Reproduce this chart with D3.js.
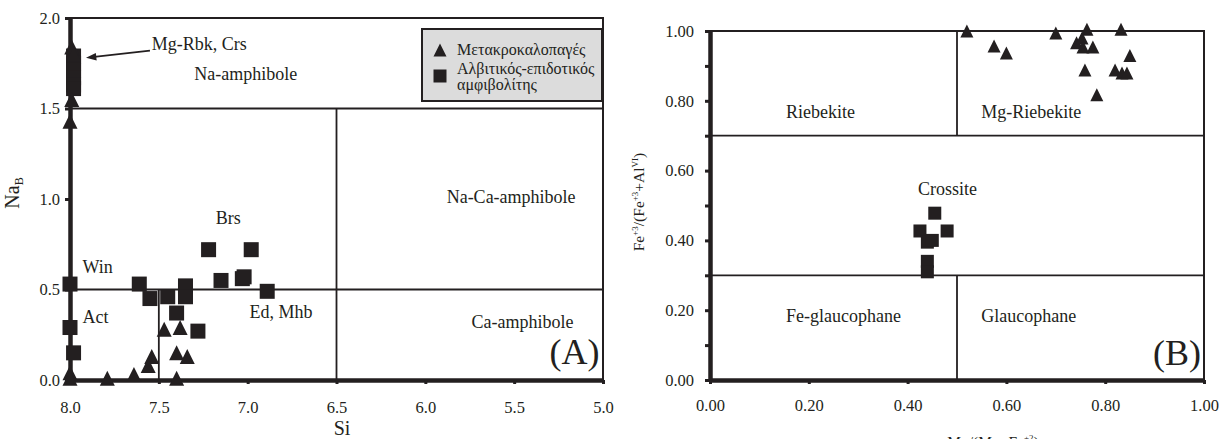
<!DOCTYPE html>
<html>
<head>
<meta charset="utf-8">
<script src="https://cdn.jsdelivr.net/npm/d3@7"></script>
<style>
  body { margin: 0; background: #fff; }
  text { fill: #231f20; }
</style>
</head>
<body>
<div id="chart"></div>
<script>
// Panel A data: [Si, NaB]
const triA = [
  [7.99, 1.84], [7.98, 1.80], [7.99, 1.55], [8.0, 1.43],
  [8.0, 0.04], [8.0, 0.01], [7.79, 0.01], [7.64, 0.03], [7.56, 0.08], [7.54, 0.13],
  [7.47, 0.28], [7.38, 0.29], [7.40, 0.15], [7.34, 0.13], [7.40, 0.01]
];
const sqA = [
  [7.98, 1.79], [7.98, 1.75], [7.98, 1.71], [7.98, 1.67], [7.98, 1.63], [7.98, 1.61],
  [8.0, 0.53], [8.0, 0.29], [7.98, 0.15],
  [7.61, 0.53], [7.55, 0.45], [7.45, 0.46], [7.35, 0.52], [7.35, 0.46], [7.40, 0.37],
  [7.28, 0.27], [7.22, 0.72], [6.98, 0.72], [7.15, 0.55], [7.03, 0.56], [7.02, 0.57], [6.89, 0.49]
];
// Panel B data: [Mg/(Mg+Fe2), Fe3/(Fe3+AlVI)]
const triB = [
  [0.52, 1.00], [0.575, 0.957], [0.60, 0.937], [0.70, 0.994], [0.763, 1.005],
  [0.742, 0.966], [0.753, 0.98], [0.755, 0.954], [0.775, 0.954], [0.759, 0.888],
  [0.783, 0.817], [0.832, 1.005], [0.82, 0.888], [0.834, 0.88], [0.85, 0.93], [0.844, 0.88]
];
const sqB = [
  [0.455, 0.478], [0.425, 0.427], [0.48, 0.427], [0.44, 0.395], [0.45, 0.40],
  [0.44, 0.34], [0.44, 0.31]
];

const ticksAx = [8.0, 7.5, 7.0, 6.5, 6.0, 5.5, 5.0];
const ticksAy = [0, 0.5, 1.0, 1.5, 2.0];
const ticksBx = [0, 0.2, 0.4, 0.6, 0.8, 1.0];
const ticksBy = [0, 0.1, 0.2, 0.3, 0.4, 0.5, 0.6, 0.7, 0.8, 0.9, 1.0];

const legendLabels = ["Μετακροκαλοπαγές", "Αλβιτικός-επιδοτικός", "αμφιβολίτης"];

// field boundaries [x1, y1, x2, y2]
const fieldsA = [[8, 1.5, 5, 1.5], [8, 0.5, 5, 0.5], [7.5, 0, 7.5, 0.5], [6.5, 0, 6.5, 1.5]];
const fieldsB = [[0, 0.7, 1, 0.7], [0, 0.3, 1, 0.3], [0.5, 0.7, 0.5, 1], [0.5, 0, 0.5, 0.3]];

const labelsA = [
  { t: "Mg-Rbk, Crs", x: 7.54, y: 1.823 },
  { t: "Na-amphibole", x: 7.30, y: 1.66 },
  { t: "Na-Ca-amphibole", x: 5.88, y: 0.978 },
  { t: "Ca-amphibole", x: 5.74, y: 0.287 },
  { t: "Brs", x: 7.18, y: 0.862 },
  { t: "Win", x: 7.93, y: 0.59 },
  { t: "Act", x: 7.93, y: 0.315 },
  { t: "Ed, Mhb", x: 6.99, y: 0.343 }
];
const labelsB = [
  { t: "Riebekite", x: 0.154, y: 0.751 },
  { t: "Mg-Riebekite", x: 0.549, y: 0.751 },
  { t: "Crossite", x: 0.421, y: 0.53 },
  { t: "Fe-glaucophane", x: 0.154, y: 0.166 },
  { t: "Glaucophane", x: 0.549, y: 0.166 }
];

const width = 1228, height = 439;
const ink = "#231f20";
const serif = "Liberation Serif";

const svg = d3.select("#chart").append("svg")
  .attr("width", width).attr("height", height)
  .attr("font-family", serif);

const xA = d3.scaleLinear().domain([8, 5]).range([70, 603]);
const yA = d3.scaleLinear().domain([0, 2]).range([380, 18]);
const xB = d3.scaleLinear().domain([0, 1]).range([710, 1204]);
const yB = d3.scaleLinear().domain([0, 1]).range([380, 31]);

const tri = (cx, cy, s) => `M${cx},${cy - s / 2}L${cx + s / 2},${cy + s / 2}L${cx - s / 2},${cy + s / 2}Z`;

function panel(x, y, fields, tris, sqs, labels, ms, opts) {
  const g = svg.append("g");

  // frame top + right
  const [x0, x1] = x.range(), [y0, y1] = y.range();
  g.append("path")
    .attr("d", `M${x0},${y1}H${x1}V${y0}`)
    .attr("fill", "none").attr("stroke", ink).attr("stroke-width", 2);

  // field boundaries
  g.selectAll(".field").data(fields).join("line")
    .attr("x1", d => x(d[0])).attr("y1", d => y(d[1]))
    .attr("x2", d => x(d[2])).attr("y2", d => y(d[3]))
    .attr("stroke", ink).attr("stroke-width", 1.8);

  // axes
  const ax = g.append("g").attr("transform", `translate(0,${y0})`)
    .call(d3.axisBottom(x).tickValues(opts.xt).tickSize(4).tickSizeOuter(0)
      .tickPadding(opts.xpad).tickFormat(opts.xf));
  const ay = g.append("g").attr("transform", `translate(${x0},0)`)
    .call(d3.axisLeft(y).tickValues(opts.yt).tickSize(5).tickSizeOuter(0)
      .tickPadding(opts.ypad).tickFormat(opts.yf));
  [ax, ay].forEach(a => {
    a.attr("font-size", 16.5);
    a.select(".domain").attr("stroke", ink).attr("stroke-width", 4.5);
    a.selectAll(".tick line").attr("stroke", ink).attr("stroke-width", 3);
  });

  // labels
  g.selectAll(".lab").data(labels).join("text")
    .attr("x", d => x(d.x)).attr("y", d => y(d.y))
    .attr("font-size", 18).text(d => d.t);

  // points
  g.selectAll(".sq").data(sqs).join("rect")
    .attr("x", d => x(d[0]) - ms / 2).attr("y", d => y(d[1]) - ms / 2)
    .attr("width", ms).attr("height", ms).attr("fill", ink);
  g.selectAll(".tri").data(tris).join("path")
    .attr("d", d => tri(x(d[0]), y(d[1]), ms)).attr("fill", ink);

  return g;
}

const gA = panel(xA, yA, fieldsA, triA, sqA, labelsA, 15, {
  xt: ticksAx, yt: ticksAy, xpad: 17, ypad: 5,
  xf: d3.format(".1f"), yf: d3.format(".1f")
});
const gB = panel(xB, yB, fieldsB, triB, sqB, labelsB, 13, {
  xt: ticksBx, yt: ticksBy, xpad: 15, ypad: 11,
  xf: d3.format(".2f"), yf: d => (Math.round(d * 10) % 2 === 0 ? d3.format(".2f")(d) : "")
});

// arrow to the Mg-Rbk, Crs cluster
const ax1 = xA(7.55), ay1 = yA(1.82), ax2 = xA(7.91), ay2 = yA(1.78);
const ang = Math.atan2(ay2 - ay1, ax2 - ax1);
gA.append("line").attr("x1", ax1).attr("y1", ay1)
  .attr("x2", ax2 - 6 * Math.cos(ang)).attr("y2", ay2 - 6 * Math.sin(ang))
  .attr("stroke", ink).attr("stroke-width", 1.8);
gA.append("path")
  .attr("d", `M${ax2},${ay2}L${ax2 - 11 * Math.cos(ang - 0.35)},${ay2 - 11 * Math.sin(ang - 0.35)}L${ax2 - 11 * Math.cos(ang + 0.35)},${ay2 - 11 * Math.sin(ang + 0.35)}Z`)
  .attr("fill", ink);

// panel letters
gA.append("text").attr("x", xA(5.02)).attr("y", yA(0.088))
  .attr("text-anchor", "end").attr("font-size", 36).text("(A)");
gB.append("text").attr("x", xB(0.994)).attr("y", yB(0.043))
  .attr("text-anchor", "end").attr("font-size", 36).text("(B)");

// axis titles
svg.append("text").attr("x", 342).attr("y", 435).attr("text-anchor", "middle")
  .attr("font-size", 20).text("Si");

const naLab = svg.append("text").attr("transform", "translate(19,193) rotate(-90)")
  .attr("text-anchor", "middle").attr("font-size", 20);
naLab.append("tspan").text("Na");
naLab.append("tspan").attr("font-size", 12).attr("dy", 4).text("B");

const feLab = svg.append("text").attr("transform", "translate(644,202) rotate(-90)")
  .attr("text-anchor", "middle").attr("font-size", 15.5);
feLab.append("tspan").text("Fe");
feLab.append("tspan").attr("font-size", 9).attr("dy", -6).text("+3");
feLab.append("tspan").attr("dy", 6).text("/(Fe");
feLab.append("tspan").attr("font-size", 9).attr("dy", -6).text("+3");
feLab.append("tspan").attr("dy", 6).text("+Al");
feLab.append("tspan").attr("font-size", 9).attr("dy", -6).text("VI");
feLab.append("tspan").attr("dy", 6).text(")");

const mgLab = svg.append("text").attr("x", 993).attr("y", 447)
  .attr("text-anchor", "middle").attr("font-size", 15.5);
mgLab.append("tspan").text("Mg/(Mg+Fe");
mgLab.append("tspan").attr("font-size", 9).attr("dy", -6).text("+2");
mgLab.append("tspan").attr("dy", 6).text(")");

// legend
const lg = svg.append("g").attr("transform", "translate(422,29)");
lg.append("rect").attr("width", 180).attr("height", 72)
  .attr("fill", "#dcdcdc").attr("stroke", ink).attr("stroke-width", 2);
lg.append("path").attr("d", tri(18, 21, 13)).attr("fill", ink);
lg.append("rect").attr("x", 11.5).attr("y", 40.5).attr("width", 13).attr("height", 13).attr("fill", ink);
lg.selectAll(".lt").data(legendLabels).join("text")
  .attr("x", 35).attr("y", (d, i) => [26, 45, 61][i])
  .attr("font-size", 16).text(d => d);

// force the serif face on every text, axis ticks included
svg.selectAll("text").style("font-family", "'Liberation Serif'").style("fill", ink);
</script>
</body>
</html>
